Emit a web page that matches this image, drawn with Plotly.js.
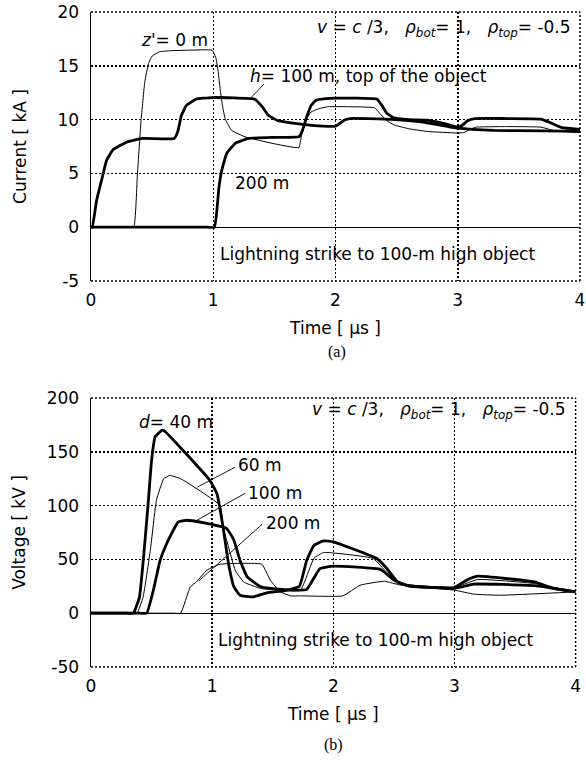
<!DOCTYPE html>
<html><head><meta charset="utf-8">
<script src="https://cdn.plot.ly/plotly-3.0.1.min.js"></script>
<style>html,body{margin:0;padding:0;background:#fff;}#chart{width:586px;height:765px;}</style>
</head><body><div id="chart"></div>
<script>
// ---- tick values / labels ----
const timeTicks = [0, 1, 2, 3, 4];
const timeTickText = ['0', '1', '2', '3', '4'];
const currentTicks = [-5, 0, 5, 10, 15, 20];
const currentTickText = ['-5', '0', '5', '10', '15', '20'];
const voltageTicks = [-50, 0, 50, 100, 150, 200];
const voltageTickText = ['-50', '0', '50', '100', '150', '200'];

// ---- (a) current [kA] vs time [us] ----
const tZ0 = [0, 0.30, 0.35, 0.38, 0.41, 0.44, 0.47, 0.50, 0.56, 0.64, 0.80, 0.99, 1.02, 1.04, 1.06, 1.08, 1.10, 1.15, 1.26, 1.48, 1.70, 1.72, 1.76, 1.80, 1.86, 1.94, 2.10, 2.32, 2.36, 2.42, 2.48, 2.60, 2.75, 3.0, 3.05, 3.10, 3.15, 3.40, 3.68, 3.80, 4.0];
const iZ0 = [0, 0, 0, 5.0, 10.0, 13.5, 15.2, 15.9, 16.3, 16.4, 16.45, 16.45, 15.8, 14.5, 12.5, 11.0, 10.0, 9.0, 8.4, 7.8, 7.4, 8.4, 10.0, 10.7, 11.0, 11.2, 11.2, 11.1, 10.6, 9.9, 9.5, 9.15, 8.9, 8.75, 8.8, 9.1, 9.3, 9.35, 9.3, 8.95, 8.8];

const tH100 = [0, 0.01, 0.046, 0.087, 0.127, 0.18, 0.29, 0.42, 0.68, 0.71, 0.74, 0.78, 0.86, 0.99, 1.34, 1.40, 1.45, 1.53, 1.70, 1.86, 2.0, 2.03, 2.07, 2.12, 2.40, 2.70, 3.0, 3.3, 3.7, 4.0];
const iH100 = [0, 0, 2.5, 4.4, 6.2, 7.2, 7.9, 8.25, 8.25, 8.9, 10.4, 11.3, 11.9, 12.05, 11.9, 11.2, 10.4, 9.9, 9.6, 9.42, 9.4, 9.6, 9.95, 10.1, 10.05, 9.8, 9.2, 9.0, 8.95, 8.9];

const tH200 = [0, 0.95, 1.01, 1.047, 1.07, 1.11, 1.18, 1.29, 1.50, 1.70, 1.73, 1.76, 1.80, 1.84, 1.92, 2.0, 2.34, 2.38, 2.42, 2.47, 2.60, 2.75, 2.9, 3.0, 3.04, 3.08, 3.14, 3.40, 3.68, 3.76, 3.85, 4.0];
const iH200 = [0, 0, 0, 3.75, 5.3, 6.85, 7.8, 8.25, 8.35, 8.4, 9.0, 10.1, 11.3, 11.8, 11.95, 12.0, 11.9, 11.3, 10.6, 10.2, 10.0, 9.95, 9.6, 9.3, 9.5, 9.9, 10.1, 10.1, 10.05, 9.7, 9.25, 9.1];

// ---- (b) voltage [kV] vs time [us] ----
const tD40 = [0, 0.30, 0.35, 0.40, 0.44, 0.474, 0.50, 0.53, 0.584, 0.61, 0.98, 1.04, 1.09, 1.135, 1.18, 1.23, 1.34, 1.45, 1.60, 1.72, 1.78, 1.84, 1.92, 2.0, 2.36, 2.44, 2.53, 2.64, 3.0, 3.1, 3.19, 3.66, 3.82, 4.0];
const vD40 = [0, 0, 0, 15, 60, 105, 142, 164, 170, 169, 123.6, 111, 80, 46, 24.5, 16.7, 15.2, 18.9, 21, 25, 49, 63, 67.2, 66.3, 50.8, 41.8, 29, 25, 23.9, 30.7, 34.4, 29, 23, 19.8];

const tD60 = [0, 0.33, 0.38, 0.43, 0.49, 0.54, 0.60, 0.65, 0.74, 1.066, 1.09, 1.135, 1.19, 1.26, 1.40, 1.60, 1.73, 1.84, 1.92, 2.33, 2.44, 2.56, 3.0, 3.19, 3.66, 4.0];
const vD60 = [0, 0, 0, 15, 58.5, 105, 125, 128, 125, 100, 80, 61.6, 40, 29, 23, 21, 21.4, 51, 56.4, 50.8, 38, 27.6, 23.9, 31.3, 27.6, 19.8];

const tD100 = [0, 0.40, 0.46, 0.515, 0.57, 0.625, 0.72, 0.79, 0.956, 1.12, 1.18, 1.23, 1.29, 1.40, 1.48, 1.65, 1.78, 1.89, 2.0, 2.39, 2.5, 2.61, 3.0, 3.16, 3.66, 4.0];
const vD100 = [0, 0, 0, 21.4, 49, 64.8, 84.9, 86.4, 83.4, 78.7, 67.8, 49, 33.7, 24.5, 23, 21.5, 22, 41.5, 43.7, 40.6, 30.7, 25.7, 23, 27, 25.7, 19.8];

const tD200 = [0, 0.68, 0.74, 0.82, 0.87, 0.956, 1.066, 1.41, 1.48, 1.56, 1.65, 1.73, 2.08, 2.22, 2.42, 2.56, 3.0, 3.16, 3.38, 4.0];
const vD200 = [0, 0, 0, 24.5, 29, 40, 45.5, 45.5, 30.7, 20, 16.1, 16.1, 16.1, 26, 29.7, 26, 21.4, 17.7, 16.7, 19.8];

// ---- styling ----
const FONT = 'DejaVu Sans';
const FS = 17;
const THICK = 2.8, THIN = 1.0;
const DOTS = '2px,2px';

function tr(x, y, w, xa, ya) {
  return {x: x, y: y, type: 'scatter', mode: 'lines', xaxis: xa, yaxis: ya,
    line: {color: '#000', width: w, shape: 'spline', smoothing: 0.35}, hoverinfo: 'skip', showlegend: false};
}

const data = [
  tr(tZ0, iZ0, THIN, 'x', 'y'),
  tr(tH200, iH200, THICK, 'x', 'y'),
  tr(tH100, iH100, THICK, 'x', 'y'),
  tr(tD200, vD200, THIN, 'x2', 'y2'),
  tr(tD60, vD60, THIN, 'x2', 'y2'),
  tr(tD100, vD100, THICK, 'x2', 'y2'),
  tr(tD40, vD40, THICK, 'x2', 'y2')
];

const gridCommon = {showgrid: true, gridcolor: '#000', gridwidth: 1.5, griddash: DOTS,
  ticks: '', tickfont: {family: FONT, size: FS, color: '#000'}, ticklabelstandoff: 7,
  ticklabeloverflow: 'allow'};

function xax(domain, anchor) {
  return Object.assign({}, gridCommon, {domain: domain, anchor: anchor, range: [0, 4],
    tickmode: 'array', tickvals: timeTicks, ticktext: timeTickText,
    showline: false, zeroline: false, fixedrange: true,
    title: {text: 'Time [ μs ]', font: {family: FONT, size: FS, color: '#000'}, standoff: 13}});
}
function yax(domain, anchor, range, tv, tt, title, standoff) {
  return Object.assign({}, gridCommon, {domain: domain, anchor: anchor, range: range,
    tickmode: 'array', tickvals: tv, ticktext: tt,
    showline: true, linecolor: '#000', linewidth: 1.5, mirror: false,
    zeroline: true, zerolinecolor: '#000', zerolinewidth: 1.2, fixedrange: true,
    title: {text: title, font: {family: FONT, size: FS, color: '#000'}, standoff: standoff}});
}

const txt = (s) => ({family: FONT, size: s || FS, color: '#000'});
function ann(x, y, text, xref, yref, xanchor) {
  return {x: x, y: y, xref: xref, yref: yref, text: text, showarrow: false,
    xanchor: xanchor || 'left', yanchor: 'middle', font: txt()};
}
const paramText = '<i>v</i> = <i>c</i> /3,&nbsp;&nbsp;&nbsp;<i>ρ</i><sub><i>bot</i></sub>= 1,&nbsp;&nbsp;&nbsp;<i>ρ</i><sub><i>top</i></sub>= -0.5';

const annotations = [
  ann(0.684, 17.4, "<i>z'</i>= 0 m", 'x', 'y', 'center'),
  ann(1.285, 14.05, '<i>h</i>= 100 m, top of the object', 'x', 'y'),
  ann(1.162, 4.1, '200 m', 'x', 'y'),
  ann(1.83, 18.5, paramText, 'x', 'y'),
  ann(1.04, -2.5, 'Lightning strike to 100-m high object', 'x', 'y'),
  ann(0.38, 177.5, '<i>d</i>= 40 m', 'x2', 'y2'),
  ann(1.20, 137.5, '60 m', 'x2', 'y2'),
  ann(1.28, 111.5, '100 m', 'x2', 'y2'),
  ann(1.43, 83.6, '200 m', 'x2', 'y2'),
  ann(1.81, 188.7, paramText, 'x2', 'y2'),
  ann(1.03, -25, 'Lightning strike to 100-m high object', 'x2', 'y2'),
  {x: 0.503, y: 0.481, xref: 'paper', yref: 'paper', text: '(a)', showarrow: false,
    xanchor: 'center', yanchor: 'middle', font: {family: 'Liberation Serif', size: 16, color: '#000'}},
  {x: 0.495, y: -0.119, xref: 'paper', yref: 'paper', text: '(b)', showarrow: false,
    xanchor: 'center', yanchor: 'middle', font: {family: 'Liberation Serif', size: 16, color: '#000'}}
];

function leader(x0, y0, x1, y1, xref, yref) {
  return {type: 'line', xref: xref, yref: yref, x0: x0, y0: y0, x1: x1, y1: y1,
    line: {color: '#000', width: 0.9}};
}
function edge(x0, y0, x1, y1, xref, yref) {
  return {type: 'line', xref: xref, yref: yref, x0: x0, y0: y0, x1: x1, y1: y1,
    line: {color: '#000', width: 1.5, dash: DOTS}, layer: 'below'};
}
const shapes = [
  leader(1.415, 13.3, 1.30, 11.93, 'x', 'y'),
  leader(1.19, 135.7, 0.876, 117.1, 'x2', 'y2'),
  leader(1.273, 111.5, 0.876, 86.4, 'x2', 'y2'),
  leader(1.413, 82.7, 0.89, 30.0, 'x2', 'y2'),
  // dotted frame (top, right, bottom) of both panels
  edge(0, 1, 1, 1, 'x domain', 'y domain'),
  edge(1, 0, 1, 1, 'x domain', 'y domain'),
  edge(0, 0, 1, 0, 'x domain', 'y domain'),
  edge(0, 1, 1, 1, 'x2 domain', 'y2 domain'),
  edge(1, 0, 1, 1, 'x2 domain', 'y2 domain'),
  edge(0, 0, 1, 0, 'x2 domain', 'y2 domain')
];

const layout = {
  width: 586, height: 765,
  margin: {l: 91, r: 6, t: 12, b: 98, pad: 0},
  paper_bgcolor: '#fff', plot_bgcolor: '#fff',
  font: {family: FONT, size: FS, color: '#000'},
  showlegend: false,
  xaxis: xax([0, 1], 'y'),
  yaxis: yax([0.5893, 1], 'x', [-5, 20], currentTicks, currentTickText, 'Current [ kA ]', 26),
  xaxis2: xax([0, 0.991], 'y2'),
  yaxis2: yax([0, 0.4107], 'x2', [-50, 200], voltageTicks, voltageTickText, 'Voltage [ kV ]', 16),
  annotations: annotations,
  shapes: shapes
};

Plotly.newPlot('chart', data, layout, {staticPlot: true, displayModeBar: false});
</script>
</body></html>
